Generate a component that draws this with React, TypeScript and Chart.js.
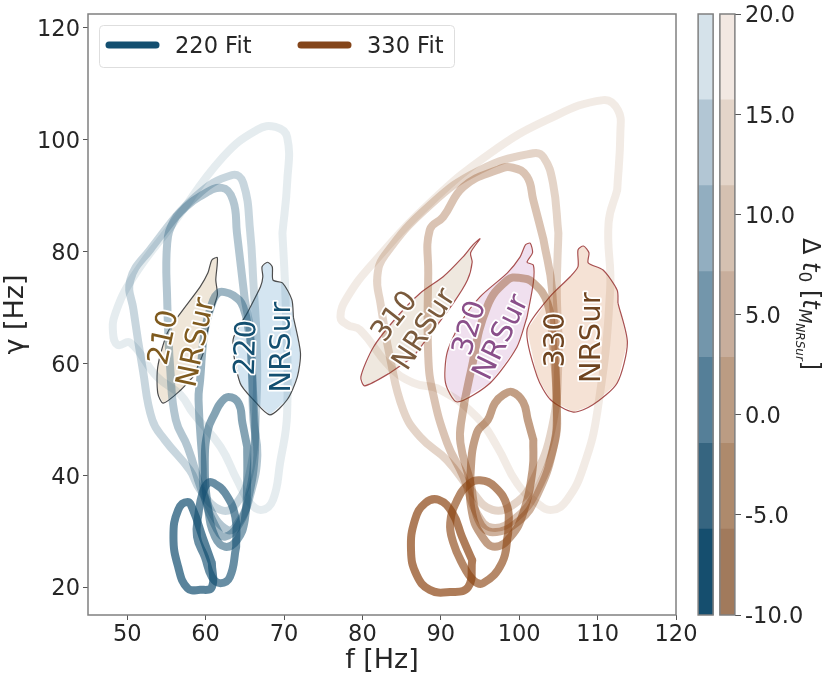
import { useEffect, useRef } from "react";
import { Chart, registerables, Plugin } from "chart.js";

Chart.register(...registerables);
Chart.defaults.font.family = "'DejaVu Sans', sans-serif";

type Pt = [number, number];

const xTicks = [50, 60, 70, 80, 90, 100, 110, 120];
const yTicks = [20, 40, 60, 80, 100, 120];
const dtTicks = [-10, -5, 0, 5, 10, 15, 20];
const dtEdges = [-10, -5.71, -1.43, 2.86, 7.14, 11.43, 15.71, 20];

// colours of the two colour bars, earliest start time first
const blueBands = ["#154e6e", "#366580", "#557f98", "#7396ab", "#92aec0", "#b2c6d4", "#d5e2ea"];
const brownBands = ["#a17a5c", "#ae8a6c", "#bb9c83", "#c8ae9c", "#d5c1b1", "#e4d5c9", "#f2e8e2"];
const fitAlpha = [0.7, 0.64, 0.52, 0.42, 0.32, 0.23, 0.11];

// 220 fit contours, [f, gamma]
const fit220G: Pt[] = [[57.7, 35.2], [58.4, 33.8], [59.6, 29.0], [60.8, 24.3], [60.8, 20.0], [59.3, 19.5], [57.7, 19.8], [56.5, 23.6], [55.9, 29.0], [56.5, 33.8]];
const fit220F: Pt[] = [[61.0, 38.6], [62.5, 36.8], [63.8, 32.5], [63.9, 27.2], [63.1, 21.8], [61.9, 20.7], [60.8, 21.8], [59.9, 25.4], [58.9, 29.0], [59.1, 33.2], [59.6, 36.8], [60.3, 38.6]];
const fit220E: Pt[] = [[62.9, 54.0], [64.2, 52.9], [64.7, 49.3], [65.3, 45.1], [65.3, 39.2], [65.0, 32.0], [64.0, 28.4], [62.5, 27.2], [61.2, 29.0], [60.3, 34.3], [59.9, 42.2], [60.3, 48.1], [61.2, 51.1], [61.9, 52.9]];
const fit220D: Pt[] = [[62.2, 72.8], [63.5, 72.2], [64.8, 70.1], [65.7, 64.2], [66.1, 53.5], [66.3, 44.5], [65.4, 35.6], [64.2, 31.1], [62.5, 29.0], [61.5, 30.2], [59.9, 36.1], [59.6, 42.2], [59.1, 53.5], [59.3, 57.0], [59.9, 66.0], [61.0, 71.4], [61.6, 72.6]];
const fit220C: Pt[] = [[62.1, 91.4], [63.5, 89.2], [64.0, 83.3], [65.0, 71.4], [65.7, 65.4], [66.1, 49.9], [66.6, 43.6], [65.7, 36.5], [64.4, 32.0], [62.8, 30.2], [60.2, 35.0], [57.7, 45.1], [56.2, 49.9], [55.5, 58.8], [55.1, 71.4], [55.1, 81.5], [55.9, 85.4], [57.2, 87.6], [59.2, 89.8]];
const fit220B: Pt[] = [[63.4, 93.7], [64.8, 92.3], [65.7, 83.3], [66.1, 74.4], [66.5, 64.2], [66.5, 53.5], [65.7, 40.9], [63.8, 34.7], [61.9, 33.8], [59.3, 37.4], [58.0, 40.9], [54.8, 46.3], [53.2, 49.9], [52.0, 58.8], [50.8, 69.6], [50.4, 74.9], [52.9, 80.3], [58.7, 89.8]];
const fit220A: Pt[] = [[68.9, 102.3], [70.4, 100.5], [70.4, 92.3], [69.8, 83.3], [70.2, 71.4], [70.4, 51.1], [69.5, 42.2], [68.6, 35.6], [67.2, 33.8], [65.7, 35.0], [64.0, 39.2], [61.9, 45.1], [58.4, 51.1], [56.8, 54.4], [53.8, 57.6], [50.4, 63.7], [48.8, 63.3], [48.2, 65.4], [48.5, 69.0], [50.8, 75.5], [55.9, 85.1], [62.2, 96.9], [66.6, 101.8]];

// 330 fit contours, [f, gamma]
const fit330G: Pt[] = [[89.7, 35.6], [91.5, 33.2], [92.7, 29.0], [94.0, 24.8], [93.5, 20.0], [91.2, 19.1], [88.6, 19.5], [86.9, 22.2], [86.2, 26.6], [86.7, 32.0], [88.0, 35.0]];
const fit330F: Pt[] = [[95.0, 39.1], [96.9, 37.9], [98.5, 34.3], [98.6, 29.7], [97.8, 24.3], [95.4, 20.7], [94.1, 21.3], [92.7, 24.3], [91.6, 27.9], [91.2, 31.5], [92.1, 35.6], [93.5, 38.3]];
const fit330E: Pt[] = [[99.1, 54.9], [100.5, 53.1], [101.1, 49.9], [101.8, 46.3], [101.7, 40.9], [100.5, 33.2], [98.9, 29.0], [96.9, 27.2], [95.3, 29.0], [94.0, 33.2], [93.8, 40.4], [94.6, 47.6], [96.0, 49.9], [96.9, 52.9], [98.0, 54.4]];
const fit330D: Pt[] = [[100.1, 75.3], [101.8, 74.4], [103.6, 70.8], [104.3, 64.2], [104.8, 51.7], [104.3, 44.5], [102.3, 36.5], [100.1, 32.0], [96.6, 29.8], [94.8, 32.0], [93.8, 38.6], [92.5, 45.8], [92.7, 50.4], [93.8, 58.3], [95.9, 70.1], [98.5, 74.9]];
const fit330C: Pt[] = [[99.2, 95.0], [101.0, 93.4], [101.8, 89.2], [103.1, 82.1], [104.2, 73.1], [104.8, 51.7], [104.6, 46.3], [102.3, 37.4], [99.7, 32.5], [96.6, 30.6], [94.6, 33.2], [92.9, 39.7], [90.8, 45.8], [89.0, 54.7], [88.4, 61.2], [88.4, 76.2], [88.6, 83.9], [90.3, 86.2], [92.9, 91.6], [97.2, 94.6]];
const fit330B: Pt[] = [[101.8, 97.6], [103.1, 96.9], [104.3, 92.3], [105.0, 83.3], [104.8, 73.1], [105.0, 60.6], [104.2, 48.6], [101.8, 39.1], [99.5, 35.0], [96.6, 33.8], [93.8, 37.4], [90.8, 42.7], [87.4, 46.8], [85.2, 51.7], [83.5, 61.2], [82.3, 70.8], [81.9, 75.5], [82.9, 79.4], [88.6, 88.3], [95.0, 94.6]];
const fit330A: Pt[] = [[110.7, 107.1], [112.6, 105.3], [112.9, 101.2], [112.5, 91.0], [111.4, 85.1], [111.6, 73.1], [110.0, 51.7], [108.2, 41.5], [106.1, 35.6], [104.2, 33.8], [102.3, 35.0], [99.7, 38.6], [97.2, 45.1], [94.6, 50.4], [89.9, 55.3], [86.5, 56.5], [83.5, 59.4], [79.7, 66.0], [78.1, 66.9], [77.2, 68.3], [78.1, 71.9], [81.4, 78.0], [88.6, 88.7], [96.3, 97.6], [103.6, 103.6]];

const fits220 = [fit220G, fit220F, fit220E, fit220D, fit220C, fit220B, fit220A];
const fits330 = [fit330G, fit330F, fit330E, fit330D, fit330C, fit330B, fit330A];

// NRSur credible regions
const sur210: Pt[] = [[61.5, 78.9], [61.3, 74.9], [61.5, 72.2], [60.6, 68.3], [59.7, 61.9], [58.4, 57.6], [56.8, 55.2], [54.6, 52.9], [53.9, 54.7], [53.9, 59.4], [55.1, 65.4], [56.8, 69.0], [59.3, 73.7], [60.3, 76.2], [60.8, 78.5]];
const sur220: Pt[] = [[67.9, 78.1], [68.5, 77.3], [68.6, 74.9], [69.8, 74.4], [71.0, 71.4], [71.2, 68.3], [72.1, 61.9], [71.7, 57.6], [70.4, 53.5], [68.2, 50.8], [66.1, 53.5], [64.4, 56.5], [63.5, 64.2], [65.3, 69.0], [67.0, 73.7], [67.3, 75.5], [67.2, 77.3]];
const sur310: Pt[] = [[95.0, 82.3], [93.8, 79.8], [94.0, 78.1], [93.4, 74.9], [91.6, 70.8], [86.5, 61.2], [83.5, 58.3], [80.3, 56.0], [79.8, 57.6], [81.4, 62.9], [84.4, 68.3], [87.4, 72.6], [90.3, 75.5], [92.8, 79.0], [94.1, 81.2]];
const sur320: Pt[] = [[101.4, 81.5], [101.7, 79.8], [101.0, 78.1], [101.8, 77.6], [101.8, 74.4], [101.0, 68.3], [99.7, 62.9], [96.3, 56.5], [92.1, 53.1], [90.6, 56.5], [90.8, 61.9], [92.5, 67.2], [95.0, 71.9], [98.5, 76.2], [100.1, 79.0], [100.8, 81.2]];
const sur330: Pt[] = [[108.2, 81.0], [108.9, 79.8], [108.8, 78.0], [110.7, 76.7], [112.5, 73.1], [112.6, 70.8], [113.8, 63.7], [112.5, 56.5], [109.4, 52.6], [106.9, 51.3], [104.0, 53.5], [102.3, 57.6], [101.0, 66.0], [103.9, 71.9], [106.5, 75.5], [107.5, 77.3], [107.5, 80.3]];

const regions = [
  { pts: sur210, fill: "#efe6d8", line: "#4d4d4d" },
  { pts: sur220, fill: "#d4e5f1", line: "#4d4d4d" },
  { pts: sur310, fill: "#efe8df", line: "#a85050" },
  { pts: sur320, fill: "#f0e0ef", line: "#a85050" },
  { pts: sur330, fill: "#f5e2d5", line: "#a85050" },
];

const regionLabels = [
  { text: "210", f: 54.8, g: 64.6, rot: -78, color: "#7f5a1e" },
  { text: "NRSur", f: 58.9, g: 63.7, rot: -78, color: "#7f5a1e" },
  { text: "220", f: 65.3, g: 62.8, rot: -88, color: "#134f70" },
  { text: "NRSur", f: 69.8, g: 62.9, rot: -90, color: "#134f70" },
  { text: "310", f: 84.2, g: 68.3, rot: -52, color: "#7a5a3c" },
  { text: "NRSur", f: 88.0, g: 66.0, rot: -57, color: "#7a5a3c" },
  { text: "320", f: 93.8, g: 66.3, rot: -74, color: "#8a4f8a" },
  { text: "NRSur", f: 97.8, g: 64.6, rot: -64, color: "#8a4f8a" },
  { text: "330", f: 104.8, g: 64.2, rot: -90, color: "#6f4420" },
  { text: "NRSur", f: 109.3, g: 64.6, rot: -90, color: "#6f4420" },
];

// start the loop on a long side so the seam of the smoothing does not show
const closed = (pts: Pt[], start = 0) => {
  const turned = [...pts.slice(start), ...pts.slice(0, start)];
  return [...turned, turned[0]].map(([x, y]) => ({ x, y }));
};

const fitDataset = (pts: Pt[], rgb: string, alpha: number) => ({
  data: closed(pts, 3),
  showLine: true,
  borderColor: `rgba(${rgb},${alpha})`,
  borderWidth: 8,
  borderJoinStyle: "round",
  borderCapStyle: "round",
  tension: 0.45,
  pointRadius: 0,
  order: 1,
});

const mainPlugin: Plugin = {
  id: "mainExtras",
  // filled NRSur regions sit under their outline
  beforeDatasetDraw(chart, args) {
    const ds: any = chart.data.datasets[args.index];
    if (!ds.regionFill) return;
    const { ctx } = chart;
    ctx.save();
    ctx.beginPath();
    args.meta.data.forEach((p: any, i: number) => (i ? ctx.lineTo(p.x, p.y) : ctx.moveTo(p.x, p.y)));
    ctx.closePath();
    ctx.fillStyle = ds.regionFill;
    ctx.fill();
    ctx.restore();
  },
  afterDatasetsDraw(chart) {
    const { ctx, chartArea: a, scales } = chart;
    ctx.save();
    regionLabels.forEach((l) => {
      ctx.save();
      ctx.translate(scales.x.getPixelForValue(l.f), scales.y.getPixelForValue(l.g));
      ctx.rotate((l.rot * Math.PI) / 180);
      ctx.font = "29px 'DejaVu Sans'";
      ctx.textAlign = "center";
      ctx.textBaseline = "middle";
      ctx.lineJoin = "round";
      ctx.lineWidth = 3.5;
      ctx.strokeStyle = "#ffffff";
      ctx.strokeText(l.text, 0, 0);
      ctx.fillStyle = l.color;
      ctx.fillText(l.text, 0, 0);
      ctx.restore();
    });

    // frame
    ctx.strokeStyle = "#808080";
    ctx.lineWidth = 1.5;
    ctx.strokeRect(a.left, a.top, a.right - a.left, a.bottom - a.top);

    // legend
    ctx.beginPath();
    ctx.roundRect(99.5, 25.5, 355, 42, 4);
    ctx.fillStyle = "rgba(255,255,255,0.8)";
    ctx.fill();
    ctx.strokeStyle = "#dedede";
    ctx.lineWidth = 1;
    ctx.stroke();
    ctx.lineCap = "round";
    ctx.lineWidth = 7;
    [
      { x: 109, label: "220 Fit", color: "#134f70" },
      { x: 301, label: "330 Fit", color: "#84451a" },
    ].forEach((item) => {
      ctx.beginPath();
      ctx.moveTo(item.x, 45);
      ctx.lineTo(item.x + 47, 45);
      ctx.strokeStyle = item.color;
      ctx.stroke();
      ctx.fillStyle = "#262626";
      ctx.font = "22.5px 'DejaVu Sans'";
      ctx.textBaseline = "alphabetic";
      ctx.fillText(item.label, item.x + 66, 53);
    });
    ctx.restore();
  },
};

const barPlugin: Plugin = {
  id: "barExtras",
  afterDatasetsDraw(chart) {
    const { ctx, chartArea: a, scales } = chart;
    ctx.save();
    ctx.strokeStyle = "#808080";
    ctx.lineWidth = 1.5;
    [0, 1].forEach((v) => {
      const x = scales.x.getPixelForValue(v);
      ctx.strokeRect(x - 7.5, a.top, 15, a.bottom - a.top);
    });

    // colour bar title, reads top to bottom
    const runs = [
      { s: "Δ ", font: "24px 'DejaVu Sans'", dy: 0 },
      { s: "t", font: "italic 24px 'DejaVu Sans'", dy: 0 },
      { s: "0", font: "17px 'DejaVu Sans'", dy: 4 },
      { s: " [", font: "24px 'DejaVu Sans'", dy: 0 },
      { s: "t", font: "italic 24px 'DejaVu Sans'", dy: 0 },
      { s: "M", font: "italic 17px 'DejaVu Sans'", dy: 4 },
      { s: "NRSur", font: "italic 12px 'DejaVu Sans'", dy: 7 },
      { s: "]", font: "24px 'DejaVu Sans'", dy: 0 },
    ];
    ctx.translate(123, 238);
    ctx.rotate(Math.PI / 2);
    ctx.fillStyle = "#262626";
    let x = 0;
    runs.forEach((r) => {
      ctx.font = r.font;
      ctx.fillText(r.s, x, r.dy);
      x += ctx.measureText(r.s).width;
    });
    ctx.restore();
  },
};

const App = () => {
  const mainRef = useRef<HTMLCanvasElement | null>(null);
  const barRef = useRef<HTMLCanvasElement | null>(null);

  useEffect(() => {
    const main = new Chart(mainRef.current!, {
      type: "scatter",
      data: {
        datasets: [
          ...fits220.map((p, i) => fitDataset(p, "19,79,112", fitAlpha[i])),
          ...fits330.map((p, i) => fitDataset(p, "139,69,19", fitAlpha[i])),
          ...regions.map((r) => ({
            data: closed(r.pts, 5),
            showLine: true,
            borderColor: r.line,
            borderWidth: 1.2,
            regionFill: r.fill,
            pointRadius: 0,
            tension: 0.25,
            order: 2,
          })),
        ] as any,
      },
      options: {
        animation: false,
        responsive: false,
        layout: { padding: { left: 0, top: 14, right: 155, bottom: 0 } },
        plugins: { legend: { display: false }, tooltip: { enabled: false } },
        scales: {
          x: {
            type: "linear",
            min: 45,
            max: 120,
            afterBuildTicks: (s) => {
              s.ticks = xTicks.map((value) => ({ value }));
            },
            afterFit: (s) => {
              s.height = 65;
              s.paddingLeft = 0;
              s.paddingRight = 0;
            },
            grid: { drawOnChartArea: false, tickLength: 5, tickColor: "#555555" },
            border: { display: false },
            ticks: { color: "#262626", font: { size: 22.5 }, padding: 2, maxRotation: 0 },
            title: { display: true, text: "f [Hz]", color: "#262626", font: { size: 27 }, padding: { top: 0, bottom: 3 } },
          },
          y: {
            type: "linear",
            min: 15,
            max: 122.5,
            afterBuildTicks: (s) => {
              s.ticks = yTicks.map((value) => ({ value }));
            },
            afterFit: (s) => {
              s.width = 88;
              s.paddingTop = 0;
              s.paddingBottom = 0;
            },
            grid: { drawOnChartArea: false, tickLength: 5, tickColor: "#555555" },
            border: { display: false },
            ticks: { color: "#262626", font: { size: 22.5 }, padding: 3, labelOffset: 2.5 },
            title: { display: true, text: "γ [Hz]", color: "#262626", font: { size: 27 }, padding: { top: 0, bottom: 0 } },
          },
        },
      },
      plugins: [mainPlugin],
    });

    const bars = new Chart(barRef.current!, {
      type: "bar",
      data: {
        datasets: blueBands.map((c, i) => ({
          data: [
            { x: 0, y: [dtEdges[i], dtEdges[i + 1]] },
            { x: 1, y: [dtEdges[i], dtEdges[i + 1]] },
          ],
          backgroundColor: [c, brownBands[i]],
          barThickness: 15,
          grouped: false,
        })) as any,
      },
      options: {
        animation: false,
        responsive: false,
        layout: { padding: { left: 18, top: 14, right: 0, bottom: 65 } },
        plugins: { legend: { display: false }, tooltip: { enabled: false } },
        scales: {
          x: { type: "linear", min: -0.35, max: 1.35, display: false, offset: false, grid: { offset: false } },
          y: {
            type: "linear",
            position: "right",
            min: -10,
            max: 20,
            afterBuildTicks: (s) => {
              s.ticks = dtTicks.map((value) => ({ value }));
            },
            afterFit: (s) => {
              s.width = 96;
              s.paddingTop = 0;
              s.paddingBottom = 0;
            },
            grid: { drawOnChartArea: false, tickLength: 6, tickColor: "#555555" },
            border: { display: false },
            ticks: {
              color: "#262626",
              font: { size: 22.5 },
              padding: 4,
              labelOffset: 2.5,
              callback: (v) => Number(v).toFixed(1),
            },
          },
        },
      },
      plugins: [barPlugin],
    });

    return () => {
      main.destroy();
      bars.destroy();
    };
  }, []);

  return (
    <div style={{ position: "absolute", left: 0, top: 0, width: 831, height: 680, background: "#fff" }}>
      <canvas ref={mainRef} width={831} height={680} style={{ position: "absolute", left: 0, top: 0 }} />
      <canvas ref={barRef} width={151} height={680} style={{ position: "absolute", left: 680, top: 0 }} />
    </div>
  );
};

export default App;
